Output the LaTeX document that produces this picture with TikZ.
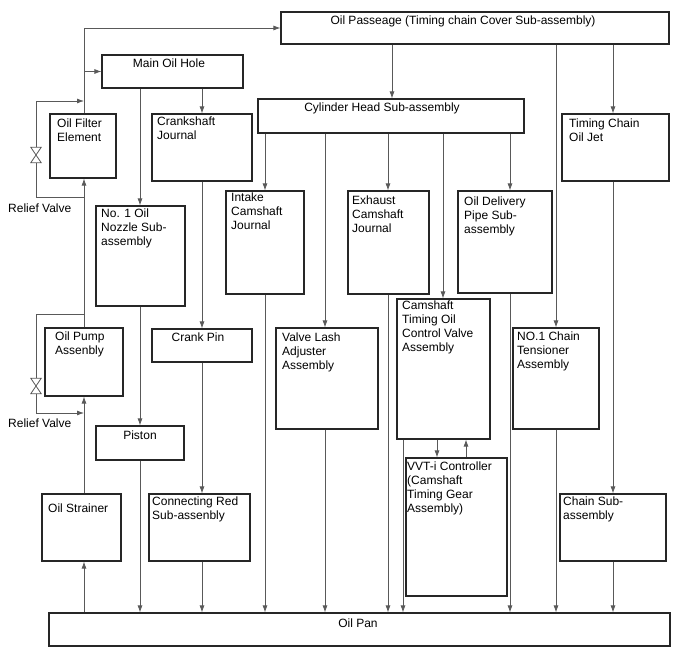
\documentclass[tikz,border=0pt]{standalone}
\usepackage{fontspec}
\setmainfont{Liberation Sans}
\usetikzlibrary{arrows.meta,fit}
\newcommand\tfont{\fontsize{12}{14}\selectfont}
\tikzset{
  box/.style={draw=black!85, line width=1.1pt, inner sep=0pt, fit={#1}},
  txt/.style={anchor=north west, inner sep=0pt, align=left, font=\tfont,
    execute at begin node={\rule{0pt}{10pt}}},
  ctxt/.style={anchor=north, inner sep=0pt, align=center, font=\tfont,
    execute at begin node={\rule{0pt}{10pt}}},
  conn/.style={draw=black!65, line width=0.8pt},
  arr/.style={conn, -{Latex[length=7pt,width=5pt]}},
  valvesh/.style={minimum width=10pt, minimum height=15pt, inner sep=0pt}
}
\begin{document}
\begin{tikzpicture}[x=1pt,y=-1pt]
\useasboundingbox (0,0) rectangle (688,658);
% boxes
\node[box={(281,12) (669,44)}] (passage) {};
\node[box={(102,55) (243,88)}] (mainhole) {};
\node[box={(50,114) (116,178)}] (filter) {};
\node[box={(152,114) (252,181)}] (crankj) {};
\node[box={(258,99) (524,133)}] (cylhead) {};
\node[box={(562,114) (669,181)}] (jet) {};
\node[box={(226,191) (304,294)}] (intake) {};
\node[box={(348,191) (429,294)}] (exhaust) {};
\node[box={(458,191) (552,293)}] (delivery) {};
\node[box={(96,206) (185,306)}] (nozzle) {};
\node[box={(45,328) (123,396)}] (pump) {};
\node[box={(152,329) (252,362)}] (crankpin) {};
\node[box={(276,328) (378,429)}] (lash) {};
\node[box={(397,299) (490,439)}] (ocv) {};
\node[box={(513,328) (599,429)}] (tensioner) {};
\node[box={(96,426) (184,460)}] (piston) {};
\node[box={(406,458) (507,596)}] (vvt) {};
\node[box={(42,494) (121,561)}] (strainer) {};
\node[box={(149,494) (250,561)}] (conrod) {};
\node[box={(560,494) (666,561)}] (chainsub) {};
\node[box={(49,613) (670,646)}] (pan) {};
% texts
\node[ctxt] (passageT) at (463,14) {Oil Passeage (Timing chain Cover Sub-assembly)};
\node[ctxt] (mainholeT) at (169,57) {Main Oil Hole};
\node[txt] (filterT) at (57,119) {Oil Filter\\Element};
\node[txt] (crankjT) at (157,117) {Crankshaft\\Journal};
\node[ctxt] (cylheadT) at (382,101) {Cylinder Head Sub-assembly};
\node[txt] (jetT) at (569,119) {Timing Chain\\Oil Jet};
\node[txt] (intakeT) at (231,193) {Intake\\Camshaft\\Journal};
\node[txt] (exhaustT) at (352,196) {Exhaust\\Camshaft\\Journal};
\node[txt] (deliveryT) at (464,197) {Oil Delivery\\Pipe Sub-\\assembly};
\node[txt] (nozzleT) at (101,209) {No. 1 Oil\\Nozzle Sub-\\assembly};
\node[txt] (pumpT) at (55,332) {Oil Pump\\Assenbly};
\node[ctxt] (crankpinT) at (198,331) {Crank Pin};
\node[txt] (lashT) at (282,333) {Valve Lash\\Adjuster\\Assembly};
\node[txt] (ocvT) at (402,301) {Camshaft\\Timing Oil\\Control Valve\\Assembly};
\node[txt] (tensionerT) at (517,332) {NO.1 Chain\\Tensioner\\Assembly};
\node[ctxt] (pistonT) at (140,429) {Piston};
\node[txt] (vvtT) at (407,462) {VVT-i Controller\\(Camshaft\\Timing Gear\\Assembly)};
\node[txt] (strainerT) at (48,502) {Oil Strainer};
\node[txt] (conrodT) at (152,497) {Connecting Red\\Sub-assenbly};
\node[txt] (chainsubT) at (563,497) {Chain Sub-\\assembly};
\node[ctxt] (panT) at (358,617) {Oil Pan};
\node[txt] (rv1T) at (8,202) {Relief Valve};
\node[txt] (rv2T) at (8,417) {Relief Valve};
% x positions
\coordinate (x84) at (84,0);
\coordinate (x140) at (140,0);
\coordinate (x202) at (202,0);
\coordinate (x265) at (265,0);
\coordinate (x325) at (325,0);
\coordinate (x388) at (388,0);
\coordinate (x392) at (392,0);
\coordinate (x403) at (403,0);
\coordinate (x437) at (437,0);
\coordinate (x443) at (443,0);
\coordinate (x466) at (466,0);
\coordinate (x510) at (510,0);
\coordinate (x556) at (556,0);
\coordinate (x613) at (613,0);
% main supply line
\draw[arr] (x84 |- pan.north) -- (x84 |- strainer.south);
\draw[arr] (x84 |- strainer.north) -- (x84 |- pump.south);
\draw[arr] (x84 |- pump.north) -- (x84 |- filter.south);
\draw[arr] (x84 |- filter.north) |- (passage.west);
\draw[arr] (x84 |- mainhole.west) -- (mainhole.west);
% relief valves
\node[valvesh] (valve1) at (36,155) {};
\node[valvesh] (valve2) at (36,386) {};
\draw[conn] (valve1.north west) -- (valve1.north east) -- (valve1.south west) -- (valve1.south east) -- cycle;
\draw[conn] (valve2.north west) -- (valve2.north east) -- (valve2.south west) -- (valve2.south east) -- cycle;
\coordinate (j1a) at (84,197);
\coordinate (j1b) at (84,101);
\coordinate (j2a) at (84,314);
\coordinate (j2b) at (84,413);
\draw[conn] (j1a) -| (valve1.south);
\draw[arr] (valve1.north) |- (j1b);
\draw[conn] (j2a) -| (valve2.north);
\draw[arr] (valve2.south) |- (j2b);
% main oil hole branches
\draw[arr] (x202 |- mainhole.south) -- (x202 |- crankj.north);
\draw[arr] (x140 |- mainhole.south) -- (x140 |- nozzle.north);
\draw[arr] (x140 |- nozzle.south) -- (x140 |- piston.north);
\draw[arr] (x140 |- piston.south) -- (x140 |- pan.north);
\draw[arr] (x202 |- crankj.south) -- (x202 |- crankpin.north);
\draw[arr] (x202 |- crankpin.south) -- (x202 |- conrod.north);
\draw[arr] (x202 |- conrod.south) -- (x202 |- pan.north);
% oil passage branches
\draw[arr] (x392 |- passage.south) -- (x392 |- cylhead.north);
\draw[arr] (x556 |- passage.south) -- (x556 |- tensioner.north);
\draw[arr] (x613 |- passage.south) -- (x613 |- jet.north);
\draw[arr] (x613 |- jet.south) -- (x613 |- chainsub.north);
\draw[arr] (x613 |- chainsub.south) -- (x613 |- pan.north);
\draw[arr] (x556 |- tensioner.south) -- (x556 |- pan.north);
% cylinder head branches
\draw[arr] (x265 |- cylhead.south) -- (x265 |- intake.north);
\draw[arr] (x325 |- cylhead.south) -- (x325 |- lash.north);
\draw[arr] (x388 |- cylhead.south) -- (x388 |- exhaust.north);
\draw[arr] (x443 |- cylhead.south) -- (x443 |- ocv.north);
\draw[arr] (x510 |- cylhead.south) -- (x510 |- delivery.north);
\draw[arr] (x265 |- intake.south) -- (x265 |- pan.north);
\draw[arr] (x325 |- lash.south) -- (x325 |- pan.north);
\draw[arr] (x388 |- exhaust.south) -- (x388 |- pan.north);
\draw[arr] (x403 |- ocv.south) -- (x403 |- pan.north);
\draw[arr] (x510 |- delivery.south) -- (x510 |- pan.north);
\draw[arr] (x437 |- ocv.south) -- (x437 |- vvt.north);
\draw[arr] (x466 |- vvt.north) -- (x466 |- ocv.south);
\end{tikzpicture}
\end{document}
